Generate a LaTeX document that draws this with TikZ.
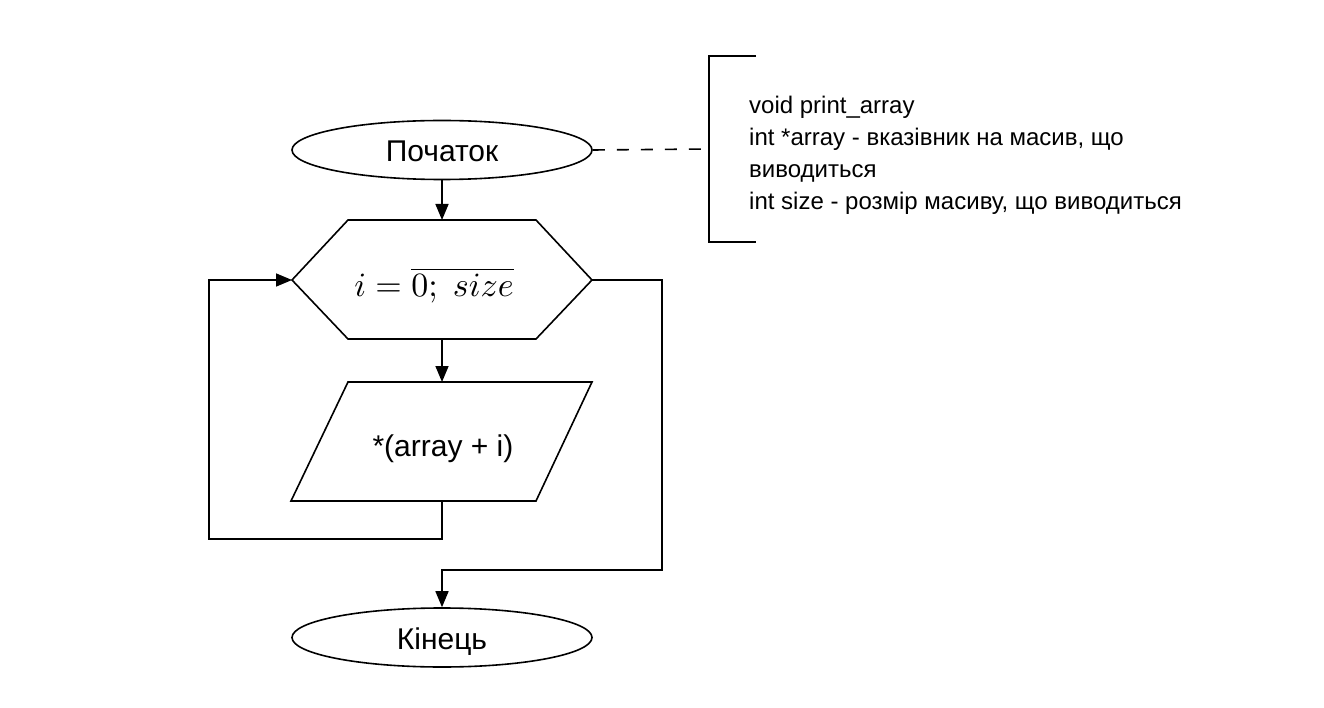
\documentclass[tikz,border=0pt]{standalone}
\usepackage{fontspec}
\setmainfont{Liberation Sans}
\usetikzlibrary{shapes.geometric,arrows.meta}
\tikzset{
  line/.style={draw, line width=1.6pt, line join=miter},
  arr/.style={line, -{Triangle[length=16pt,width=13pt]}},
  term/.style={line, ellipse, minimum width=300pt, minimum height=59pt, inner sep=0pt},
  lbl/.style={font=\fontsize{30}{34}\selectfont, anchor=base, inner sep=0pt},
  note/.style={font=\fontsize{24}{32}\selectfont, anchor=base west, inner sep=0pt}
}
\begin{document}
\begin{tikzpicture}[x=1pt,y=-1pt]
\useasboundingbox (0,0) rectangle (1324,708);
% start
\node[term] (start) at (442,150) {};
\node[lbl] (startlbl) at (442,161.5) {Початок};
% hexagon (loop)
\coordinate (hl) at (292,280);
\coordinate (hr) at (592,280);
\coordinate (ht) at (442,220);
\coordinate (hb) at (442,339);
\draw[line] (hl) -- (348,220) -- (536,220) -- (hr) -- (536,339) -- (348,339) -- cycle;
\node[anchor=base, inner sep=0pt] (loop) at (434,297) {\scalebox{3.4}{$i = \overline{0;\ size}$}};
% parallelogram
\coordinate (pt) at (442,382);
\coordinate (pb) at (442,501);
\draw[line] (348,382) -- (592,382) -- (536,501) -- (291,501) -- cycle;
\node[lbl] (out) at (443,456) {*(array + i)};
% end
\node[term] (end) at (442,637.5) {};
\node[lbl] (endlbl) at (442,649) {Кінець};
% connectors
\draw[arr] (start.south) -- (ht);
\draw[arr] (hb) -- (pt);
\coordinate (l1) at (442,539);
\coordinate (l2) at (209,539);
\coordinate (l3) at (209,280);
\draw[arr] (pb) -- (l1) -- (l2) -- (l3) -- (hl);
\coordinate (e1) at (662,280);
\coordinate (e2) at (662,570);
\coordinate (e3) at (442,570);
\draw[arr] (hr) -- (e1) -- (e2) -- (e3) -- (end.north);
% comment
\coordinate (b1) at (756,56);
\coordinate (b2) at (709,56);
\coordinate (b3) at (709,242);
\coordinate (b4) at (756,242);
\coordinate (bm) at (709,149);
\draw[line] (b1) -- (b2) -- (b3) -- (b4);
\draw[line, dash pattern=on 12pt off 12pt] (start.east) -- (bm);
\node[note] (c1) at (749,114) {void print\_array};
\node[note] (c2) at (749,146) {int *array - вказівник на масив, що};
\node[note] (c3) at (749,178) {виводиться};
\node[note] (c4) at (749,210) {int size - розмір масиву, що виводиться};
\end{tikzpicture}
\end{document}
